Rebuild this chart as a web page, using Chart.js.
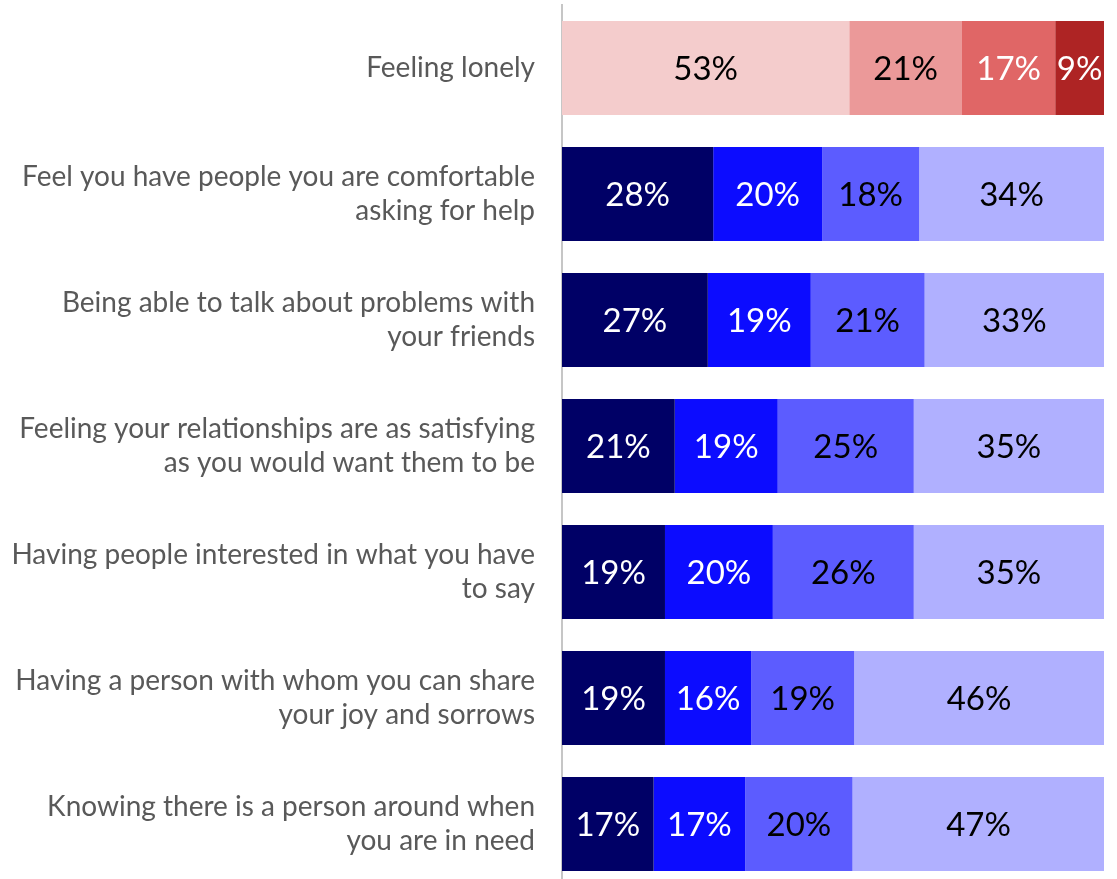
<!DOCTYPE html>
<html>
  <head>
    <title>Relationships</title>
    <script src="https://cdn.jsdelivr.net/npm/chart.js"></script>
    <style>
      html, body { margin: 0; padding: 0; background: #fff; overflow: hidden; }
    </style>
  </head>
  <body>
    <canvas id="grafico" width="1117" height="892"></canvas>

    <script>
      // categorias (labels em duas linhas quando precisa)
      const categorias = [
        ["Feeling lonely"],
        ["Feel you have people you are comfortable", "asking for help"],
        ["Being able to talk about problems with", "your friends"],
        ["Feeling your relationships are as satisfying", "as you would want them to be"],
        ["Having people interested in what you have", "to say"],
        ["Having a person with whom you can share", "your joy and sorrows"],
        ["Knowing there is a person around when", "you are in need"],
      ];

      // valores de cada segmento, em %
      const segmento1 = [53.0, 27.9, 26.9, 20.8, 19.0, 19.0, 16.9];
      const segmento2 = [20.8, 20.1, 19.0, 19.0, 19.9, 15.9, 16.9];
      const segmento3 = [17.2, 17.9, 21.0, 25.1, 26.0, 19.0, 19.8];
      const segmento4 = [9.0, 34.1, 33.1, 35.1, 35.1, 46.1, 46.5];

      // cores: primeira linha em vermelho, o resto em azul
      const vermelhos = ["#F4CCCC", "#EB9999", "#E06666", "#AE2424"];
      const azuis = ["#000066", "#0C0CFF", "#5C5CFF", "#B0B0FF"];
      const textoVermelho = ["#000", "#000", "#fff", "#fff"];
      const textoAzul = ["#fff", "#fff", "#000", "#000"];

      function coresSegmento(i) {
        return categorias.map((c, idx) => (idx === 0 ? vermelhos[i] : azuis[i]));
      }

      const segmentos = [segmento1, segmento2, segmento3, segmento4];

      const dados = {
        labels: categorias,
        datasets: segmentos.map((valores, i) => ({
          data: valores,
          backgroundColor: coresSegmento(i),
          borderWidth: 0,
          barPercentage: 0.746,
          categoryPercentage: 1,
        })),
      };

      // escreve o % no meio de cada pedaço da barra
      const rotulos = {
        id: "rotulos",
        afterDatasetsDraw(chart) {
          const ctx = chart.ctx;
          ctx.save();
          ctx.font = "33px Lato";
          ctx.textAlign = "center";
          ctx.textBaseline = "middle";
          chart.data.datasets.forEach((ds, i) => {
            const meta = chart.getDatasetMeta(i);
            meta.data.forEach((bar, j) => {
              const cx = (bar.x + bar.base) / 2;
              ctx.fillStyle = j === 0 ? textoVermelho[i] : textoAzul[i];
              ctx.fillText(Math.round(ds.data[j]) + "%", cx, bar.y + 1);
            });
          });
          ctx.restore();
        },
      };

      const config = {
        type: "bar",
        data: dados,
        options: {
          indexAxis: "y",
          responsive: false,
          animation: false,
          layout: { padding: { top: 5, bottom: 5, right: 13 } },
          plugins: { legend: { display: false }, tooltip: { enabled: false } },
          scales: {
            x: {
              stacked: true,
              min: 0,
              max: 100,
              display: false,
            },
            y: {
              stacked: true,
              grid: { display: false, drawTicks: false },
              border: { display: true, color: "#c6c6c6", width: 2 },
              ticks: {
                color: "#595959",
                padding: 27,
                font: { family: "Lato", size: 28, lineHeight: 1.21 },
              },
              afterFit(scale) {
                // largura fixa e sem folga em cima/embaixo
                scale.width = 562;
                scale.paddingTop = 0;
                scale.paddingBottom = 0;
              },
            },
          },
        },
        plugins: [rotulos],
      };

      let myChart = new Chart(document.getElementById("grafico"), config);
    </script>
  </body>
</html>
